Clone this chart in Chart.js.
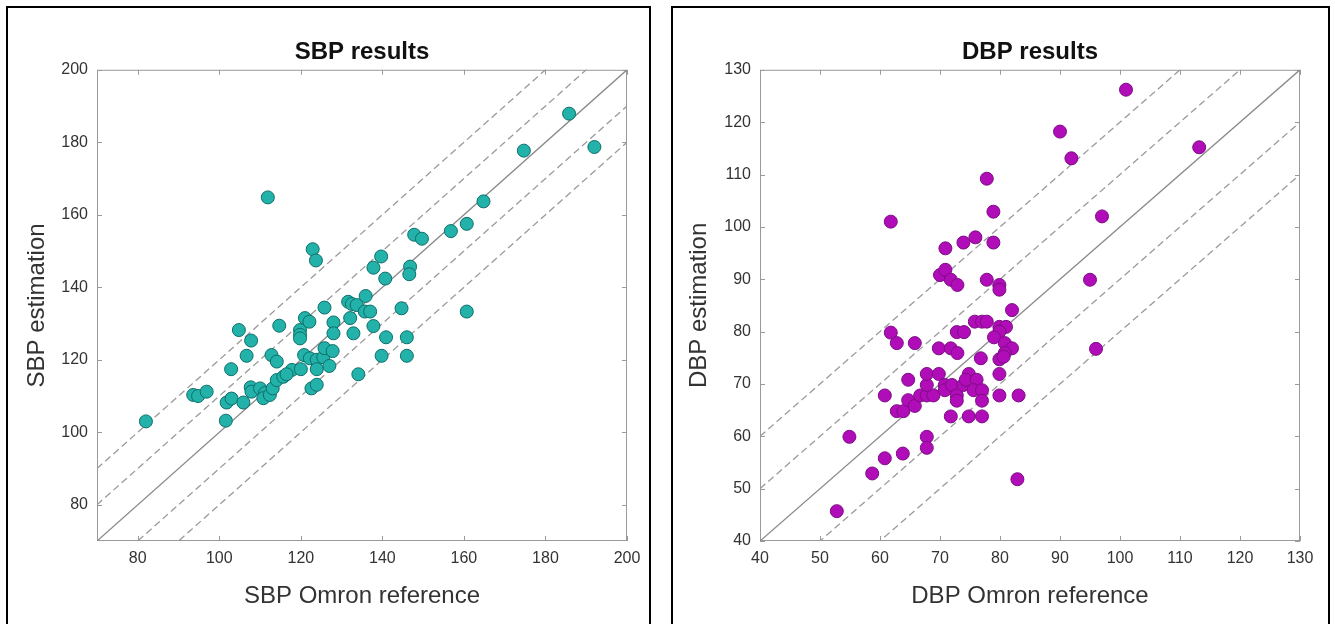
<!DOCTYPE html>
<html>
<head>
<meta charset="utf-8">
<script src="https://cdn.jsdelivr.net/npm/chart.js@4"></script>
<style>
  body { margin: 0; background: #fff; width: 1335px; height: 624px; overflow: hidden; position: relative; }
  .panel { position: absolute; top: 6px; height: 640px; border: 2px solid #000; box-sizing: border-box; }
  .box { position: absolute; left: 0; top: 0; }
</style>
</head>
<body>
<div class="panel" style="left:6px; width:645px;">
  <div class="box" style="width:641px; height:616px;"><canvas id="sbpChart"></canvas></div>
</div>
<div class="panel" style="left:671px; width:659px;">
  <div class="box" style="width:655px; height:616px;"><canvas id="dbpChart"></canvas></div>
</div>
<script>
// SBP: Omron reference (x) vs estimation (y)
const sbpRef = [82, 93.6, 94.8, 96.9, 101.6, 101.8, 103, 102.9, 104.8, 105.9, 106.7, 107.8, 107.7, 107.9,
  110, 111.2, 110.8, 112.4, 113.1, 114.1, 115.7, 117.8, 116.5, 120, 111.9, 112.8, 114.1, 114.7,
  119.8, 119.8, 119.8, 121, 122.1, 120.8, 122.2, 123.9, 125.5, 125.8, 127.8, 127, 123.9, 122.6,
  123.9, 122.9, 123.7, 125.8, 128, 128, 131.6, 132.5, 133.7, 132.1, 132.9, 134.1, 135.9, 135.7,
  137, 137.8, 137.8, 139.7, 139.8, 140.9, 140.7, 144.7, 146, 146, 146.8, 146.6, 147.8, 149.7,
  156.8, 160.7, 160.7, 164.8, 174.7, 185.8, 192];
const sbpEst = [103, 110.3, 110, 111.2, 103.2, 108.2, 109.3, 117.4, 128.2, 108.2, 121.1, 125.3, 112.4, 111.2,
  112.1, 110.8, 109.4, 110.3, 112.1, 114.4, 115.3, 117.2, 116, 117.4, 164.8, 121.3, 119.5, 129.4,
  128.2, 126.9, 125.9, 131.5, 130.5, 121.3, 120.4, 120, 120.7, 123.2, 122.4, 118.3, 117.4, 112.1,
  113.1, 150.5, 147.4, 134.4, 130.3, 127.3, 136, 135.4, 135.1, 131.5, 127.3, 116, 137.6, 133.3,
  133.3, 129.3, 145.4, 148.5, 121.1, 126.2, 142.4, 134.2, 126.2, 121.1, 145.7, 143.6, 154.5, 153.4,
  155.5, 157.5, 133.3, 163.7, 177.7, 187.9, 178.7];

// DBP: Omron reference (x) vs estimation (y)
const dbpRef = [52.8, 54.9, 58.7, 60.8, 60.8, 61.8, 61.8, 62.8, 62.8, 63.9, 63.8, 64.7, 64.7, 65.8, 65.8,
  66.7, 67.8, 68.9, 67.8, 67.8, 69.8, 67.8, 67.8, 69.8, 70, 70.9, 70.9, 70.8, 70.8, 72, 71.8, 71.8,
  71.8, 72.9, 72.9, 72.8, 74, 72.8, 72.8, 73.9, 73.9, 74.8, 74.3, 76.1, 74.8, 75.6, 77, 75.8, 77,
  77.8, 75.9, 76.8, 77, 77, 77.8, 77.8, 78.9, 78.9, 79.9, 79.9, 79.9, 81, 79.9, 79, 80.8, 82, 80.8,
  79.9, 80.6, 79.9, 79.9, 83.1, 82.9, 82, 90, 91.9, 95, 96, 97, 101, 113.2];
const dbpEst = [45.7, 59.9, 52.9, 55.8, 67.8, 79.8, 101, 77.8, 64.8, 64.8, 56.7, 70.8, 66.9, 65.8, 77.8,
  67.8, 67.8, 67.8, 69.8, 71.9, 71.9, 59.9, 57.8, 76.8, 90.8, 91.8, 95.9, 69.8, 68.8, 69.8, 76.8, 89.9,
  63.8, 75.9, 88.9, 79.9, 79.9, 67.8, 66.8, 69.8, 97, 71.9, 70.8, 70.8, 63.8, 68.8, 68.8, 81.9, 81.9,
  81.9, 98, 74.9, 66.8, 63.8, 89.9, 109.2, 102.9, 97, 88.9, 88, 80.9, 80.9, 80, 78.9, 77.8, 76.8, 75.9,
  74.7, 75.2, 71.9, 67.8, 67.8, 51.8, 84.1, 118.2, 113.1, 89.9, 76.7, 102, 126.2, 115.2];

const sbpRange = [70, 200];
const dbpRange = [40, 130];
const sbpTicks = [80, 100, 120, 140, 160, 180, 200];
const dbpTicks = [40, 50, 60, 70, 80, 90, 100, 110, 120, 130];
// y = x and the +/-10, +/-20 mmHg bands
const bandOffsets = [20, 10, 0, -10, -20];

// plot frame + inward tick marks on all four sides
const frameTicks = {
  id: 'frameTicks',
  beforeDatasetsDraw(chart) {
    const {ctx, chartArea: a, scales} = chart;
    ctx.save();
    ctx.strokeStyle = '#9a9a9a';
    ctx.lineWidth = 1;
    ctx.strokeRect(a.left + 0.5, a.top + 0.5, a.right - a.left - 1, a.bottom - a.top - 1);
    ctx.beginPath();
    scales.x.ticks.forEach(t => {
      const px = Math.round(scales.x.getPixelForValue(t.value)) + 0.5;
      ctx.moveTo(px, a.bottom); ctx.lineTo(px, a.bottom - 5);
      ctx.moveTo(px, a.top); ctx.lineTo(px, a.top + 5);
    });
    scales.y.ticks.forEach(t => {
      const py = Math.round(scales.y.getPixelForValue(t.value)) + 0.5;
      ctx.moveTo(a.left, py); ctx.lineTo(a.left + 5, py);
      ctx.moveTo(a.right, py); ctx.lineTo(a.right - 5, py);
    });
    ctx.stroke();
    ctx.restore();
  }
};

function bandLines(range) {
  return bandOffsets.map(off => ({
    type: 'line',
    data: [{x: range[0], y: range[0] + off}, {x: range[1], y: range[1] + off}],
    borderColor: off === 0 ? '#8a8a8a' : '#9a9a9a',
    borderWidth: 1.3,
    borderDash: off === 0 ? [] : [7, 4],
    pointRadius: 0,
    order: 1
  }));
}

function makeChart(el, cfg) {
  const pts = cfg.xs.map((v, i) => ({x: v, y: cfg.ys[i]}));
  return new Chart(el, {
    type: 'scatter',
    data: {
      datasets: [{
        data: pts,
        backgroundColor: cfg.fill,
        borderColor: cfg.edge,
        borderWidth: 1,
        pointRadius: 6.5,
        order: 0
      }].concat(bandLines(cfg.range))
    },
    options: {
      responsive: true,
      maintainAspectRatio: false,
      animation: false,
      layout: { padding: { left: 0, right: cfg.padRight, top: 0, bottom: 0 } },
      plugins: {
        legend: { display: false },
        tooltip: { enabled: false },
        title: {
          display: true,
          text: cfg.title,
          fullSize: false,
          color: '#111',
          font: { family: 'Liberation Sans', size: 24, weight: 'bold' },
          padding: { top: 30, bottom: 3 }
        }
      },
      scales: {
        x: {
          type: 'linear',
          min: cfg.range[0], max: cfg.range[1],
          afterBuildTicks: s => { s.ticks = cfg.ticks.map(v => ({value: v})); },
          afterFit: s => { s.height = 83; },
          grid: { display: false, drawTicks: false },
          border: { display: false },
          ticks: { padding: 8, color: '#333', font: { family: 'Liberation Sans', size: 16 } },
          title: {
            display: true, text: cfg.xTitle, color: '#333',
            font: { family: 'Liberation Sans', size: 24 },
            padding: { top: 0, bottom: 13 }
          }
        },
        y: {
          type: 'linear',
          min: cfg.range[0], max: cfg.range[1],
          afterBuildTicks: s => { s.ticks = cfg.ticks.map(v => ({value: v})); },
          afterFit: s => { s.width = cfg.yWidth; },
          grid: { display: false, drawTicks: false },
          border: { display: false },
          ticks: { padding: 9, color: '#333', font: { family: 'Liberation Sans', size: 16 } },
          title: {
            display: true, text: cfg.yTitle, color: '#333',
            font: { family: 'Liberation Sans', size: 24 },
            padding: { top: cfg.yTitlePad, bottom: 0 }
          }
        }
      }
    },
    plugins: [frameTicks]
  });
}

const sbpChart = makeChart(document.getElementById('sbpChart'), {
  xs: sbpRef, ys: sbpEst, range: sbpRange, ticks: sbpTicks,
  fill: '#22b2aa', edge: '#0d6e69',
  title: 'SBP results', xTitle: 'SBP Omron reference', yTitle: 'SBP estimation',
  yWidth: 89, yTitlePad: 15, padRight: 22
});

const dbpChart = makeChart(document.getElementById('dbpChart'), {
  xs: dbpRef, ys: dbpEst, range: dbpRange, ticks: dbpTicks,
  fill: '#b00cb8', edge: '#7c0d84',
  title: 'DBP results', xTitle: 'DBP Omron reference', yTitle: 'DBP estimation',
  yWidth: 87, yTitlePad: 12, padRight: 28
});
</script>
</body>
</html>
